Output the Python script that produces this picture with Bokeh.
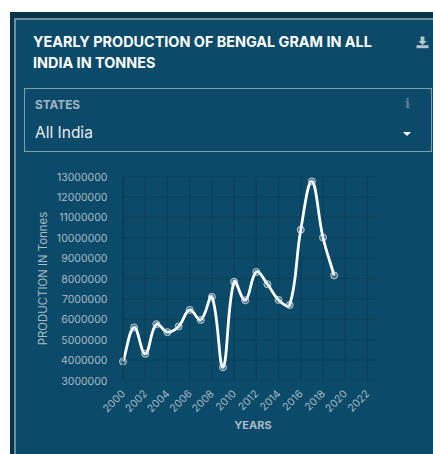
from bokeh.plotting import figure
from bokeh.models import Div, FixedTicker, Range1d, Span
from bokeh.layouts import column
from bokeh.embed import file_html
from bokeh.resources import INLINE
from math import pi, hypot

years = list(range(2000, 2020))
production = [3930000, 5600000, 4310000, 5760000, 5370000, 5650000, 6460000, 5970000,
              7100000, 3650000, 7840000, 6930000, 8320000, 7720000, 6950000, 6700000,
              10390000, 12760000, 10010000, 8150000]
x_ticks = list(range(2000, 2024, 2))
y_ticks = list(range(3000000, 14000000, 1000000))
title_lines = ["YEARLY PRODUCTION OF BENGAL GRAM IN ALL", "INDIA IN TONNES"]
state_label = "STATES"
state_value = "All India"
x_title = "YEARS"
y_title = "PRODUCTION IN Tonnes"

W = 433
PANEL = "#0b4a68"
DARK = "#0a3548"
EDGE = "#6f8fa0"
FONT = "Inter"
TXT = "#a9bcc6"
GRID = "#0a3f58"
STRIPS = f"linear-gradient(to right, white 0 10px, {DARK} 10px 14px, {EDGE} 14px 16px, {PANEL} 16px 100%)"

def abs_text(x, y, text, size, color, weight=400, extra=""):
    return (f'<span style="position:absolute;left:{x}px;top:{y}px;font:{weight} {size}px/1 {FONT};'
            f'color:{color};white-space:nowrap;{extra}">{text}</span>')

def abs_box(x, y, w, h, css):
    return f'<div style="position:absolute;left:{x}px;top:{y}px;width:{w}px;height:{h}px;{css}"></div>'

head_h = 166
head_html = (
    f'<div style="position:relative;width:{W}px;height:{head_h}px;overflow:hidden;background:{STRIPS}">'
    + abs_box(0, 0, W, 12, "background:white")
    + abs_box(10, 12, W-10, 6, f"background:{DARK}")
    + abs_box(14, 18, W-14, 1.5, f"background:{EDGE}")
    + abs_box(24, 88, 406, 62, "border:1.3px solid #7f9cab;box-sizing:content-box")
    + abs_text(33, 35, title_lines[0], 14.4, "white", 700)
    + abs_text(33, 55.5, title_lines[1], 14.4, "white", 700)
    + abs_text(35, 99.5, state_label, 11.8, "#a3b5c0", 700)
    + abs_text(35, 124.5, state_value, 15.5, "#e8eef1")
    + f'<span style="position:absolute;left:405px;top:97px;font:700 13px/1 \'DejaVu Serif\';color:#64808f">i</span>'
    + abs_box(403, 132, 0, 0, "border-left:4.5px solid transparent;border-right:4.5px solid transparent;border-top:4px solid white")
    + '<svg style="position:absolute;left:416px;top:36px" width="13" height="13" viewBox="0 0 13 13">'
      '<path d="M4.6 0.5h3.8v4.5h2.4L6.5 9 2.2 5h2.4z" fill="#b4c4cd"/>'
      '<rect x="0.5" y="9.2" width="12" height="3" fill="#b4c4cd"/></svg>'
    + '</div>'
)
head = Div(text=head_html, width=W, height=head_h, margin=0)

px_per_year = 255 / 22.95
frame_left, frame_right, frame_top, frame_bottom = 118, 377, 10, 215
plot_h = 252
x_start = 2000 - (122.5 - frame_left) / px_per_year
x_end = x_start + (frame_right - frame_left) / px_per_year

p = figure(width=W, height=plot_h, output_backend="svg", toolbar_location=None,
           x_range=Range1d(x_start, x_end), y_range=Range1d(3000000, 13000000),
           min_border_left=frame_left, min_border_right=W-frame_right,
           min_border_top=frame_top, min_border_bottom=plot_h-frame_bottom, margin=0)
p.background_fill_color = None
p.border_fill_color = None
p.outline_line_color = None
p.styles = {"background": STRIPS}

for ax in (p.xaxis[0], p.yaxis[0]):
    ax.major_label_text_font = FONT
    ax.major_label_text_font_size = "10.5px"
    ax.major_label_text_color = TXT
    ax.axis_label_text_font = FONT
    ax.axis_label_text_font_size = "11.4px"
    ax.axis_label_text_color = TXT
    ax.axis_label_text_font_style = "normal"
    ax.axis_line_color = None
    ax.major_tick_line_color = None
    ax.minor_tick_line_color = None

p.xaxis[0].ticker = FixedTicker(ticks=x_ticks)
p.yaxis[0].ticker = FixedTicker(ticks=y_ticks)
p.yaxis[0].formatter.use_scientific = False
p.xaxis[0].formatter.use_scientific = False
p.xaxis[0].major_label_orientation = pi / 4
p.yaxis[0].major_label_standoff = 5
p.yaxis[0].axis_label = y_title
p.yaxis[0].axis_label_standoff = 4
p.xgrid.visible = False
p.ygrid.visible = False

p.segment(x0=x_ticks, x1=x_ticks, y0=[y_ticks[0]]*len(x_ticks), y1=[y_ticks[-1]]*len(x_ticks),
          line_color=GRID, line_width=1)
p.segment(x0=[2000]*len(y_ticks), x1=[x_end]*len(y_ticks), y0=y_ticks, y1=y_ticks,
          line_color=GRID, line_width=1)
p.add_layout(Span(location=2000, dimension="height", line_color="#0a3a50", line_width=1))

T = 0.4
n = len(years)
px_y = 205.3 / 10000000
cp_prev, cp_next = [], []
for i in range(n):
    a = max(i - 1, 0); b = min(i + 1, n - 1)
    d01 = hypot((years[i]-years[a])*px_per_year, (production[i]-production[a])*px_y)
    d12 = hypot((years[b]-years[i])*px_per_year, (production[b]-production[i])*px_y)
    s = d01 + d12 or 1
    fa, fb = T*d01/s, T*d12/s
    cp_prev.append((years[i]-fa*(years[b]-years[a]), production[i]-fa*(production[b]-production[a])))
    cp_next.append((years[i]+fb*(years[b]-years[a]), production[i]+fb*(production[b]-production[a])))

p.bezier(x0=years[:-1], y0=production[:-1], x1=years[1:], y1=production[1:],
         cx0=[c[0] for c in cp_next[:-1]], cy0=[c[1] for c in cp_next[:-1]],
         cx1=[c[0] for c in cp_prev[1:]], cy1=[c[1] for c in cp_prev[1:]],
         line_color="white", line_width=2.8)
p.scatter(years, production, size=7, fill_color="#dfe7eb", fill_alpha=0.25,
          line_color="#d5dfe4", line_alpha=0.85, line_width=1)

foot_h = 454 - head_h - plot_h
foot_html = (
    f'<div style="position:relative;width:{W}px;height:{foot_h}px;overflow:hidden;background:{STRIPS}">'
    + f'<span style="position:absolute;left:253px;top:{425-418-6}px;transform:translateX(-50%);'
      f'font:700 11px/1.1 {FONT};color:{TXT}">{x_title}</span></div>'
)
foot = Div(text=foot_html, width=W, height=foot_h, margin=0)

page = column(head, p, foot, spacing=0, margin=0)
open("out.html", "w").write(file_html(page, INLINE))
